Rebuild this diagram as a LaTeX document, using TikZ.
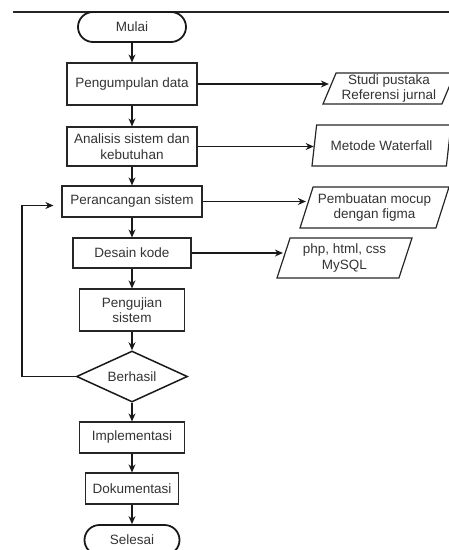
\documentclass[tikz,border=0pt]{standalone}
\usepackage{fontspec}
\setmainfont{Liberation Sans}
\usetikzlibrary{shapes.geometric, arrows.meta, positioning, calc}

\begin{document}
\begin{tikzpicture}[
            x=1pt, y=-1pt,
            every node/.style={font=\fontsize{13.5}{15.5}\selectfont, text=black!80},
            proses/.style={rectangle, draw=black!85, line width=1.2pt, inner sep=0pt, align=center},
            terminal/.style={rectangle, rounded corners=15pt, draw=black!90, line width=1.8pt, inner sep=0pt, minimum height=30pt},
            keputusan/.style={diamond, aspect=2.2, draw=black!90, line width=1.5pt, inner sep=0pt},
            data/.style={trapezium, trapezium left angle=65, trapezium right angle=115, trapezium stretches body=true, draw=black!85, line width=1.2pt, inner sep=0pt, align=center},
            arrow/.style={-{Stealth[length=8pt, width=7pt]}, line width=1.2pt, black!90}
        ]
\useasboundingbox (0,0) rectangle (449,550);

% Garis atas
            \draw[line width=1.2pt, black!85] (13,12) -- (449,12);

% Alur utama
            \node[terminal, minimum width=108pt] (mulai) at (132,27) {Mulai};
            \node[proses, minimum width=130pt, minimum height=42pt] (kumpul) at (132,84) {Pengumpulan data};
            \node[proses, minimum width=130pt, minimum height=39pt] (analisis) at (132,146.5) {Analisis sistem dan\\kebutuhan};
            \node[proses, minimum width=140pt, minimum height=31pt] (rancang) at (132,201.5) {Perancangan sistem};
            \node[proses, minimum width=118pt, minimum height=30pt] (desain) at (132,253) {Desain kode};
            \node[proses, minimum width=105pt, minimum height=42pt] (uji) at (132,310) {Pengujian\\sistem};
            \node[keputusan, minimum width=111pt, minimum height=51pt] (berhasil) at (132,376.5) {Berhasil};
            \node[proses, minimum width=105pt, minimum height=31pt] (implementasi) at (132,437.5) {Implementasi};
            \node[proses, minimum width=93pt, minimum height=31pt] (dokumentasi) at (132,488.5) {Dokumentasi};
            \node[terminal, minimum width=95pt] (selesai) at (132,540) {Selesai};

% Masukan / keluaran
            \node[data, minimum width=132pt, minimum height=31pt] (studi) at (389,88.5) {Studi pustaka\\Referensi jurnal};
            \node[data, minimum width=139pt, minimum height=41pt] (metode) at (381.5,145.5) {Metode Waterfall};
            \node[data, minimum width=149pt, minimum height=41pt] (mocup) at (374.5,207.5) {Pembuatan mocup\\dengan figma};
            \node[data, minimum width=135pt, minimum height=40pt] (php) at (344.5,258) {php, html, css\\MySQL};

% Panah alur
            \draw[arrow] (mulai) -- (kumpul);
            \draw[arrow] (kumpul) -- (analisis);
            \draw[arrow] (analisis) -- (rancang);
            \draw[arrow] (rancang) -- (desain);
            \draw[arrow] (desain) -- (uji);
            \draw[arrow] (uji) -- (berhasil);
            \draw[arrow] (berhasil) -- (implementasi);
            \draw[arrow] (implementasi) -- (dokumentasi);
            \draw[arrow] (dokumentasi) -- (selesai);

% Panah ke data
            \draw[arrow] (kumpul.east) -- (kumpul.east -| studi.west);
            \draw[arrow] (analisis.east) -- (analisis.east -| metode.west);
            \draw[arrow] (rancang.east) -- (rancang.east -| mocup.west);
            \draw[arrow] (desain.east) -- (desain.east -| php.west);

% Kembali jika gagal
            \coordinate (balik) at (22,376.5);
            \draw[arrow, shorten >=8pt] (berhasil.west) -- (balik) |- ([yshift=-4pt]rancang.west);

        \end{tikzpicture}
\end{document}
